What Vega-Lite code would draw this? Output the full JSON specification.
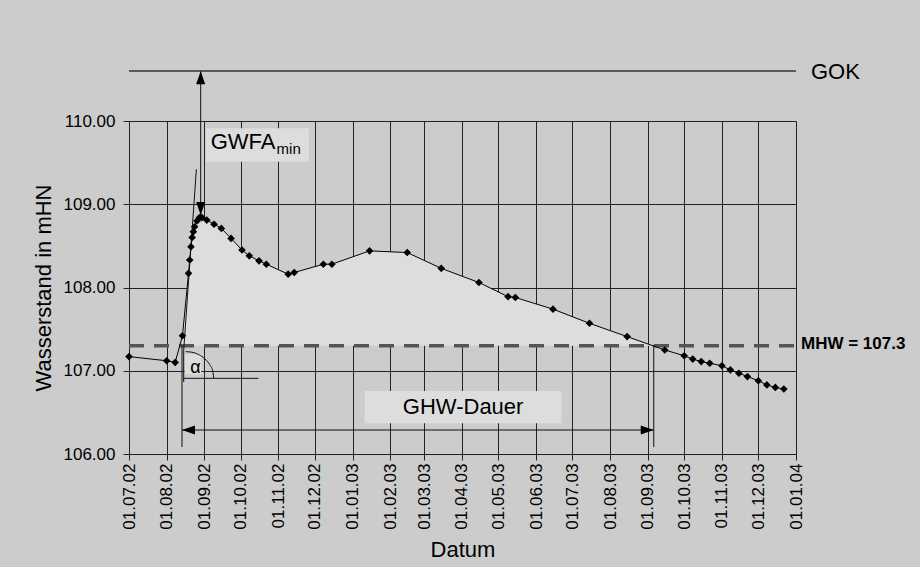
{
  "$schema": "https://vega.github.io/schema/vega-lite/v6.json",
  "width": 667,
  "height": 333,
  "autosize": {"type": "none"},
  "padding": {"left": 129, "top": 121, "right": 124, "bottom": 113},
  "background": "#cccccc",
  "config": {
    "view": {"stroke": null},
    "font": "Liberation Sans",
    "axis": {
      "gridColor": "#222222",
      "gridOpacity": 1,
      "domainColor": "#222222",
      "tickColor": "#222222",
      "labelColor": "#000000",
      "titleColor": "#000000",
      "labelFont": "Liberation Sans",
      "titleFont": "Liberation Sans",
      "labelFontSize": 17,
      "titleFontSize": 22,
      "titleFontWeight": "normal"
    }
  },
  "datasets": {
    "series": [
      {"date": "2002-07-01", "value": 107.17},
      {"date": "2002-08-01", "value": 107.12},
      {"date": "2002-08-08", "value": 107.10},
      {"date": "2002-08-14", "value": 107.42},
      {"date": "2002-08-19", "value": 108.17},
      {"date": "2002-08-20", "value": 108.33},
      {"date": "2002-08-21", "value": 108.49},
      {"date": "2002-08-22", "value": 108.60},
      {"date": "2002-08-23", "value": 108.67},
      {"date": "2002-08-24", "value": 108.73},
      {"date": "2002-08-26", "value": 108.80},
      {"date": "2002-08-28", "value": 108.84},
      {"date": "2002-08-30", "value": 108.84},
      {"date": "2002-09-03", "value": 108.81},
      {"date": "2002-09-09", "value": 108.76},
      {"date": "2002-09-15", "value": 108.71},
      {"date": "2002-09-23", "value": 108.59},
      {"date": "2002-10-02", "value": 108.45},
      {"date": "2002-10-08", "value": 108.38},
      {"date": "2002-10-16", "value": 108.32},
      {"date": "2002-10-22", "value": 108.28},
      {"date": "2002-11-09", "value": 108.16},
      {"date": "2002-11-14", "value": 108.18},
      {"date": "2002-12-08", "value": 108.28},
      {"date": "2002-12-15", "value": 108.28},
      {"date": "2003-01-15", "value": 108.44},
      {"date": "2003-02-15", "value": 108.42},
      {"date": "2003-03-15", "value": 108.23},
      {"date": "2003-04-15", "value": 108.06},
      {"date": "2003-05-09", "value": 107.89},
      {"date": "2003-05-15", "value": 107.88},
      {"date": "2003-06-15", "value": 107.74},
      {"date": "2003-07-15", "value": 107.57},
      {"date": "2003-08-15", "value": 107.41},
      {"date": "2003-09-15", "value": 107.25},
      {"date": "2003-10-01", "value": 107.18},
      {"date": "2003-10-08", "value": 107.14},
      {"date": "2003-10-15", "value": 107.11},
      {"date": "2003-10-22", "value": 107.09},
      {"date": "2003-11-01", "value": 107.06},
      {"date": "2003-11-08", "value": 107.01},
      {"date": "2003-11-15", "value": 106.97},
      {"date": "2003-11-22", "value": 106.93},
      {"date": "2003-12-01", "value": 106.88},
      {"date": "2003-12-08", "value": 106.83},
      {"date": "2003-12-15", "value": 106.80},
      {"date": "2003-12-22", "value": 106.78}
    ],
    "area": [
      {"date": "2002-08-14", "value": 107.42},
      {"date": "2002-08-19", "value": 108.17},
      {"date": "2002-08-20", "value": 108.33},
      {"date": "2002-08-21", "value": 108.49},
      {"date": "2002-08-22", "value": 108.60},
      {"date": "2002-08-23", "value": 108.67},
      {"date": "2002-08-24", "value": 108.73},
      {"date": "2002-08-26", "value": 108.80},
      {"date": "2002-08-28", "value": 108.84},
      {"date": "2002-08-30", "value": 108.84},
      {"date": "2002-09-03", "value": 108.81},
      {"date": "2002-09-09", "value": 108.76},
      {"date": "2002-09-15", "value": 108.71},
      {"date": "2002-09-23", "value": 108.59},
      {"date": "2002-10-02", "value": 108.45},
      {"date": "2002-10-08", "value": 108.38},
      {"date": "2002-10-16", "value": 108.32},
      {"date": "2002-10-22", "value": 108.28},
      {"date": "2002-11-09", "value": 108.16},
      {"date": "2002-11-14", "value": 108.18},
      {"date": "2002-12-08", "value": 108.28},
      {"date": "2002-12-15", "value": 108.28},
      {"date": "2003-01-15", "value": 108.44},
      {"date": "2003-02-15", "value": 108.42},
      {"date": "2003-03-15", "value": 108.23},
      {"date": "2003-04-15", "value": 108.06},
      {"date": "2003-05-09", "value": 107.89},
      {"date": "2003-05-15", "value": 107.88},
      {"date": "2003-06-15", "value": 107.74},
      {"date": "2003-07-15", "value": 107.57},
      {"date": "2003-08-15", "value": 107.41},
      {"date": "2003-09-05T22:00:00Z", "value": 107.30}
    ],
    "mhw": [
      {"date": "2002-07-01", "date2": "2004-01-01", "value": 107.3, "label": "MHW = 107.3"}
    ],
    "gok": [
      {"date": "2002-07-01", "date2": "2004-01-01", "value": 110.6, "label": "GOK"}
    ],
    "segs": [
      {"name": "tangent", "date": "2002-08-15T00:00:00Z", "value": 107.243, "date2": "2002-08-25T11:00:00Z", "value2": 109.42},
      {"name": "alpha-v", "date": "2002-08-15T00:00:00Z", "value": 107.243, "date2": "2002-08-15T00:00:00Z", "value2": 106.865},
      {"name": "alpha-h", "date": "2002-08-14T19:00:00Z", "value": 106.909, "date2": "2002-10-15T12:00:00Z", "value2": 106.909},
      {"name": "ghw-left", "date": "2002-08-13T15:00:00Z", "value": 107.30, "date2": "2002-08-13T15:00:00Z", "value2": 106.084},
      {"name": "ghw-right", "date": "2003-09-05T22:00:00Z", "value": 107.31, "date2": "2003-09-05T22:00:00Z", "value2": 106.084},
      {"name": "ghw-arrow", "date": "2002-08-13T15:00:00Z", "value": 106.288, "date2": "2003-09-05T22:00:00Z", "value2": 106.288},
      {"name": "gwfa-arrow", "date": "2002-08-29T00:00:00Z", "value": 110.597, "date2": "2002-08-29T00:00:00Z", "value2": 108.871}
    ],
    "arc": [
      {"date": "2002-08-16T16:00:00Z", "value": 107.229},
      {"date": "2002-08-21T14:00:00Z", "value": 107.223},
      {"date": "2002-08-27T10:00:00Z", "value": 107.194},
      {"date": "2002-09-01T12:00:00Z", "value": 107.142},
      {"date": "2002-09-05T10:00:00Z", "value": 107.075},
      {"date": "2002-09-07T22:00:00Z", "value": 106.997},
      {"date": "2002-09-08T17:00:00Z", "value": 106.913}
    ],
    "arrows": [
      {"date": "2002-08-13T15:00:00Z", "value": 106.288, "dir": "left"},
      {"date": "2003-09-05T22:00:00Z", "value": 106.288, "dir": "right"},
      {"date": "2002-08-29T00:00:00Z", "value": 110.597, "dir": "up"},
      {"date": "2002-08-29T00:00:00Z", "value": 108.871, "dir": "down"}
    ],
    "boxes": [
      {"name": "gwfa", "date": "2002-09-02T03:00:00Z", "date2": "2002-11-25T22:00:00Z", "value": 109.912, "value2": 109.511},
      {"name": "ghw", "date": "2003-01-11T00:00:00Z", "date2": "2003-06-22T00:00:00Z", "value": 106.757, "value2": 106.369},
      {"name": "alpha", "date": "2002-08-15T19:00:00Z", "date2": "2002-08-29T14:00:00Z", "value": 107.2, "value2": 106.96}
    ],
    "bigtext": [
      {"date": "2002-09-06T05:00:00Z", "value": 109.66, "label": "GWFA"}
    ],
    "subtext": [
      {"date": "2002-10-30T12:00:00Z", "value": 109.604, "label": "min"}
    ],
    "centertext": [
      {"date": "2003-04-02T00:00:00Z", "value": 106.565, "label": "GHW-Dauer"}
    ],
    "alphatext": [
      {"date": "2002-08-24T15:00:00Z", "value": 106.967, "label": "α"}
    ]
  },
  "encoding": {
    "x": {
      "field": "date",
      "type": "temporal",
      "scale": {
        "type": "utc",
        "domain": [
          {"year": 2002, "month": 7, "date": 1, "utc": true},
          {"year": 2004, "month": 1, "date": 1, "utc": true}
        ],
        "nice": false
      },
      "axis": {
        "title": "Datum",
        "format": "%d.%m.%y",
        "labelAngle": -90,
        "tickCount": {"interval": "month", "step": 1},
        "grid": true,
        "tickSize": 6,
        "labelPadding": 3,
        "titlePadding": 10,
        "labelOverlap": false,
        "labelFlush": false
      }
    },
    "y": {
      "field": "value",
      "type": "quantitative",
      "scale": {"domain": [106, 110], "nice": false, "zero": false},
      "axis": {
        "title": "Wasserstand in mHN",
        "values": [106, 107, 108, 109, 110],
        "format": ".2f",
        "grid": true,
        "tickSize": 6,
        "labelPadding": 8,
        "titlePadding": 8
      }
    }
  },
  "layer": [
    {
      "data": {"name": "area"},
      "mark": {"type": "area", "color": "#dddddd", "interpolate": "linear"},
      "encoding": {"y2": {"datum": 107.3}}
    },
    {
      "data": {"name": "boxes"},
      "mark": {"type": "rect", "color": "#dddddd"},
      "encoding": {"x2": {"field": "date2"}, "y2": {"field": "value2"}}
    },
    {
      "data": {"name": "mhw"},
      "mark": {"type": "rule", "color": "#555555", "strokeWidth": 3.5, "strokeDash": [15, 10]},
      "encoding": {"x2": {"field": "date2"}}
    },
    {
      "data": {"name": "mhw"},
      "mark": {"type": "text", "align": "left", "baseline": "middle", "dx": 5, "dy": -2, "fontSize": 17, "fontWeight": "bold", "color": "#000000"},
      "encoding": {"x": {"field": "date2", "type": "temporal"}, "text": {"field": "label"}}
    },
    {
      "data": {"name": "gok"},
      "mark": {"type": "rule", "color": "#333333", "strokeWidth": 1.5},
      "encoding": {"x2": {"field": "date2"}}
    },
    {
      "data": {"name": "gok"},
      "mark": {"type": "text", "align": "left", "baseline": "middle", "dx": 15, "dy": 1, "fontSize": 22, "color": "#000000"},
      "encoding": {"x": {"field": "date2", "type": "temporal"}, "text": {"field": "label"}}
    },
    {
      "data": {"name": "segs"},
      "mark": {"type": "rule", "color": "#111111", "strokeWidth": 1},
      "encoding": {"x2": {"field": "date2"}, "y2": {"field": "value2"}}
    },
    {
      "data": {"name": "arc"},
      "mark": {"type": "line", "color": "#111111", "strokeWidth": 1, "interpolate": "monotone"},
      "encoding": {}
    },
    {
      "data": {"name": "arrows"},
      "mark": {"type": "point", "filled": true, "color": "#000000", "opacity": 1, "size": 169},
      "encoding": {
        "shape": {
          "field": "dir",
          "type": "nominal",
          "scale": {
            "domain": ["left", "right", "up", "down"],
            "range": ["M0,0L2,-0.7L2,0.7Z", "M0,0L-2,-0.7L-2,0.7Z", "M0,0L-0.7,2L0.7,2Z", "M0,0L-0.7,-2L0.7,-2Z"]
          },
          "legend": null
        }
      }
    },
    {
      "data": {"name": "bigtext"},
      "mark": {"type": "text", "align": "left", "baseline": "alphabetic", "fontSize": 22, "color": "#000000"},
      "encoding": {"text": {"field": "label"}}
    },
    {
      "data": {"name": "subtext"},
      "mark": {"type": "text", "align": "left", "baseline": "alphabetic", "fontSize": 15, "color": "#000000"},
      "encoding": {"text": {"field": "label"}}
    },
    {
      "data": {"name": "centertext"},
      "mark": {"type": "text", "align": "center", "baseline": "middle", "fontSize": 22, "color": "#000000"},
      "encoding": {"text": {"field": "label"}}
    },
    {
      "data": {"name": "alphatext"},
      "mark": {"type": "text", "align": "center", "baseline": "alphabetic", "fontSize": 18, "color": "#000000"},
      "encoding": {"text": {"field": "label"}}
    },
    {
      "data": {"name": "series"},
      "mark": {"type": "line", "color": "#000000", "strokeWidth": 1},
      "encoding": {}
    },
    {
      "data": {"name": "series"},
      "mark": {"type": "point", "shape": "diamond", "filled": true, "color": "#000000", "opacity": 1, "size": 58},
      "encoding": {}
    }
  ]
}
